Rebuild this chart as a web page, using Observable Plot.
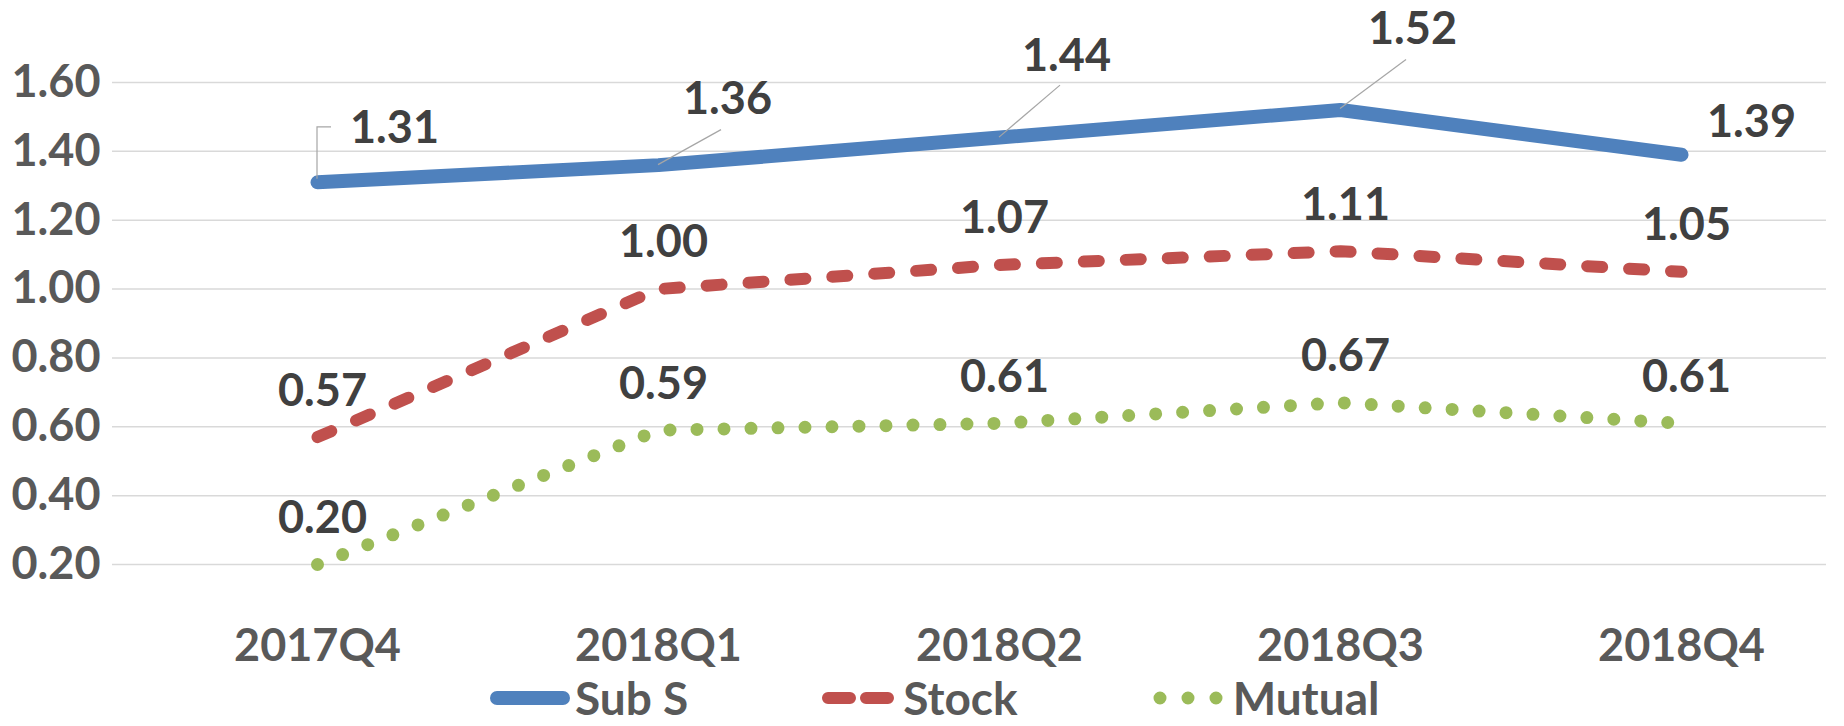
<!DOCTYPE html>
<html>
<head>
<meta charset="utf-8">
<script src="https://cdn.jsdelivr.net/npm/d3@7"></script>
<script src="https://cdn.jsdelivr.net/npm/@observablehq/plot@0.6"></script>
<style>
  html, body { margin: 0; padding: 0; background: #ffffff; }
  #chart { width: 1844px; height: 726px; position: relative; overflow: hidden; }
  #legend { display: flex; align-items: center; height: 40px; padding-left: 490px;
            font-family: Lato, "Liberation Sans", sans-serif; font-weight: bold;
            font-size: 46px; line-height: 40px; color: #595959; }
  .item { display: flex; align-items: center; margin-right: 130px; height: 40px; }
  .item svg { margin-right: 5px; }
</style>
</head>
<body>
<div id="chart"></div>
<script>
// ---- data ----
const categories = ["2017Q4", "2018Q1", "2018Q2", "2018Q3", "2018Q4"];
const subS   = [1.31, 1.36, 1.44, 1.52, 1.39];
const stock  = [0.57, 1.00, 1.07, 1.11, 1.05];
const mutual = [0.20, 0.59, 0.61, 0.67, 0.61];
const yTicks = [0.2, 0.4, 0.6, 0.8, 1.0, 1.2, 1.4, 1.6];
const seriesNames = ["Sub S", "Stock", "Mutual"];

// ---- layout / style (not data) ----
const FONT = 'Lato, "Liberation Sans", sans-serif';
const colors = {"Sub S": "#4F81BD", "Stock": "#C0504D", "Mutual": "#9BBB59"};
const subSLabelOffsets = [[77, -54], [69, -66], [67, -81], [72, -80], [70, -32]];
const subSLeaders = [
  [[0, -3], [0, -55], [14, -55]],
  [[0, 0], [63, -35]],
  [[0, 0], [61, -52]],
  [[0, -1], [66, -50]],
  null
];

const toRows = (vals) => categories.map((c, i) => ({cat: c, v: vals[i], label: d3.format(".2f")(vals[i])}));
const subSRows = toRows(subS), stockRows = toRows(stock), mutualRows = toRows(mutual);

const labelStyle = {fontSize: 45, fontWeight: "bold", fill: "#404040"};

function leaderMark(...args) {
  const scales = args.find(a => a && typeof a.x === "function" && typeof a.y === "function");
  const g = d3.create("svg:g").attr("fill", "none").attr("stroke", "#A6A6A6").attr("stroke-width", 1.2);
  subSRows.forEach((r, i) => {
    const pts = subSLeaders[i];
    if (!pts) return;
    const px = scales.x(r.cat), py = scales.y(r.v);
    g.append("path").attr("d", d3.line()(pts.map(([dx, dy]) => [px + dx, py + dy])));
  });
  return g.node();
}

const chart = Plot.plot({
  width: 1844,
  height: 678,
  marginLeft: 112,
  marginRight: 18,
  marginTop: 82,
  marginBottom: 114,
  style: {fontFamily: FONT, background: "#ffffff", overflow: "visible"},
  x: {type: "point", domain: categories, range: [316, 1682], padding: 0, label: null},
  y: {domain: [0.2, 1.6], label: null},
  marks: [
    Plot.ruleY(yTicks, {stroke: "#D9D9D9", strokeWidth: 1.5}),
    Plot.axisY(yTicks, {tickSize: 0, tickPadding: 12, tickFormat: d3.format(".2f"), label: null,
      fontSize: 45, fontWeight: "bold", fill: "#595959"}),
    Plot.axisX({tickSize: 0, tickPadding: 65, fontSize: 45, fontWeight: "bold", fill: "#595959", label: null}),
    Plot.line(mutualRows, {x: "cat", y: "v", stroke: colors["Mutual"], strokeWidth: 13,
      strokeDasharray: "0,27", strokeLinecap: "round", strokeLinejoin: "round"}),
    Plot.line(stockRows, {x: "cat", y: "v", stroke: colors["Stock"], strokeWidth: 12,
      strokeDasharray: "15,27", strokeLinecap: "round", strokeLinejoin: "round"}),
    Plot.line(subSRows, {x: "cat", y: "v", stroke: colors["Sub S"], strokeWidth: 14,
      strokeLinecap: "round", strokeLinejoin: "round"}),
    leaderMark,
    Plot.text(stockRows, {x: "cat", y: "v", text: "label", dx: 5, dy: -46, ...labelStyle}),
    Plot.text(mutualRows, {x: "cat", y: "v", text: "label", dx: 5, dy: -46, ...labelStyle}),
    ...subSRows.map((r, i) => Plot.text([r], {x: "cat", y: "v", text: "label",
      dx: subSLabelOffsets[i][0], dy: subSLabelOffsets[i][1], ...labelStyle}))
  ]
});

const root = document.getElementById("chart");
root.appendChild(chart);

// legend
const legend = document.createElement("div");
legend.id = "legend";
const swatches = {
  "Sub S": `<line x1="7" y1="10" x2="73" y2="10" stroke="${colors["Sub S"]}" stroke-width="14" stroke-linecap="round"/>`,
  "Stock": `<line x1="10" y1="10" x2="70" y2="10" stroke="${colors["Stock"]}" stroke-width="12" stroke-dasharray="22,16" stroke-linecap="round"/>`,
  "Mutual": `<line x1="12" y1="10" x2="70" y2="10" stroke="${colors["Mutual"]}" stroke-width="13" stroke-dasharray="0,28" stroke-linecap="round"/>`
};
seriesNames.forEach(name => {
  const item = document.createElement("div");
  item.className = "item";
  item.innerHTML = `<svg width="80" height="20">${swatches[name]}</svg><span>${name}</span>`;
  legend.appendChild(item);
});
root.appendChild(legend);
</script>
</body>
</html>
